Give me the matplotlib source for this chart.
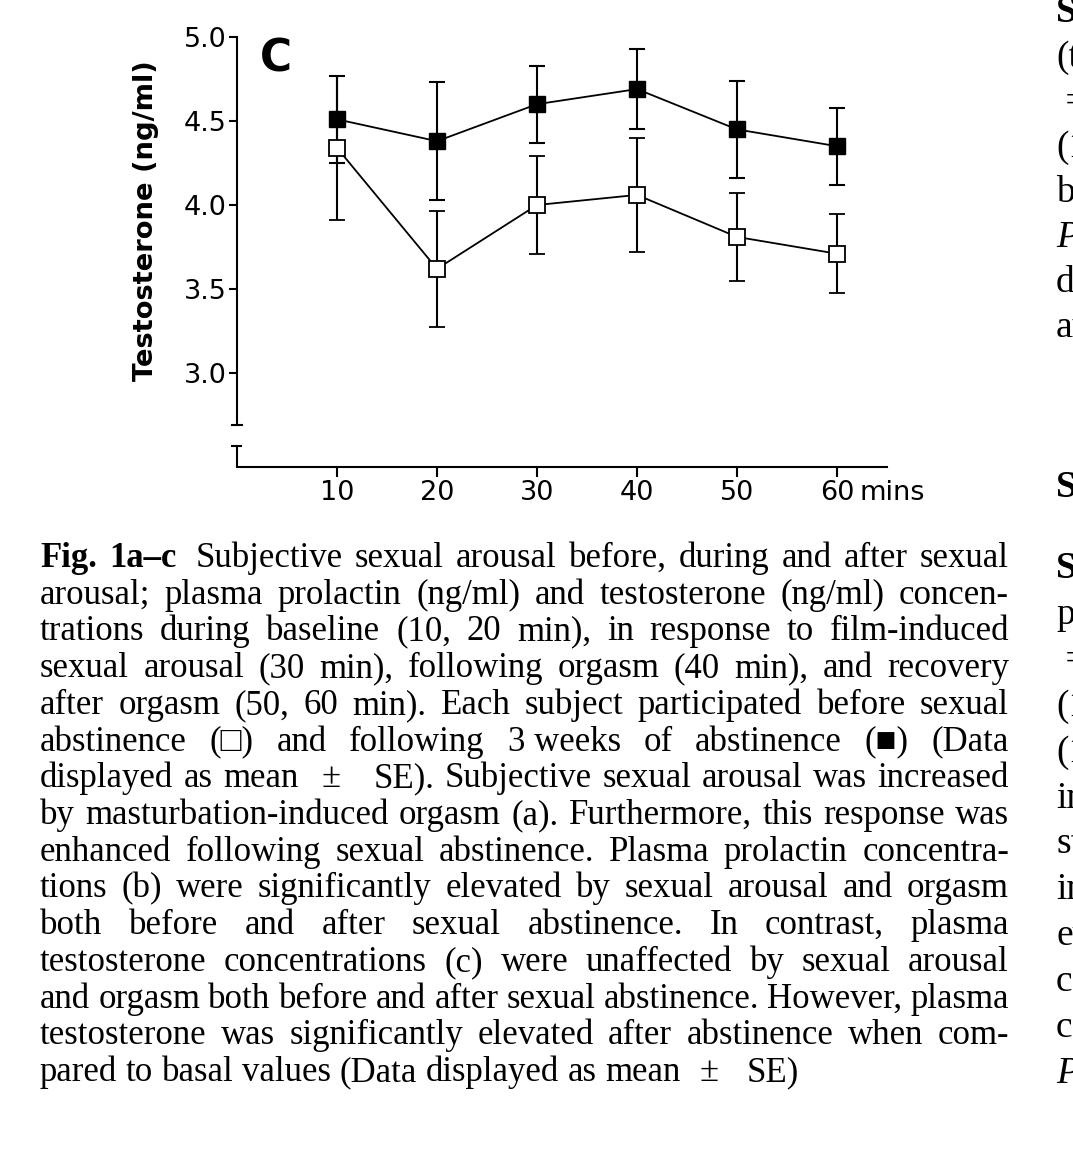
import matplotlib
matplotlib.use('Agg')
import matplotlib.pyplot as plt

W, H = 1073, 1173

# ---------------- data ----------------
times = [10, 20, 30, 40, 50, 60]
xtick_labels = ['10', '20', '30', '40', '50', '60']
after_mean = [4.51, 4.38, 4.60, 4.69, 4.45, 4.35]     # filled squares (after abstinence)
after_se = [0.26, 0.35, 0.23, 0.24, 0.29, 0.23]
before_mean = [4.34, 3.62, 4.00, 4.06, 3.81, 3.71]    # open squares (before abstinence)
before_se = [0.43, 0.345, 0.29, 0.34, 0.26, 0.235]
yticks = [3.0, 3.5, 4.0, 4.5, 5.0]
ytick_labels = ['3.0', '3.5', '4.0', '4.5', '5.0']
ylabel = 'Testosterone (ng/ml)'
panel_label = 'C'
x_unit = 'mins'

caption_lines = [
    "Fig. 1a–c Subjective sexual arousal before, during and after sexual",
    "arousal; plasma prolactin (ng/ml) and testosterone (ng/ml) concen-",
    "trations during baseline (10, 20 min), in response to film-induced",
    "sexual arousal (30 min), following orgasm (40 min), and recovery",
    "after orgasm (50, 60 min). Each subject participated before sexual",
    "abstinence (□) and following 3\u00a0weeks of abstinence (■) (Data",
    "displayed as mean ± SE). Subjective sexual arousal was increased",
    "by masturbation-induced orgasm (a). Furthermore, this response was",
    "enhanced following sexual abstinence. Plasma prolactin concentra-",
    "tions (b) were significantly elevated by sexual arousal and orgasm",
    "both before and after sexual abstinence. In contrast, plasma",
    "testosterone concentrations (c) were unaffected by sexual arousal",
    "and orgasm both before and after sexual abstinence. However, plasma",
    "testosterone was significantly elevated after abstinence when com-",
    "pared to basal values (Data displayed as mean ± SE)",
]
bold_words_line0 = 2

right_top = [("Se", 'bold', 'normal'), ("(t", 'normal', 'normal'), (" =", 'normal', 'normal'),
             ("(1", 'normal', 'normal'), ("be", 'normal', 'normal'), ("P", 'normal', 'italic'),
             ("du", 'normal', 'normal'), ("an", 'normal', 'normal')]
right_head = ("Se", 'bold', 'normal')
right_bottom = [("Se", 'bold', 'normal'), ("pr", 'normal', 'normal'), (" =", 'normal', 'normal'),
                ("(1", 'normal', 'normal'), ("(1", 'normal', 'normal'), ("in", 'normal', 'normal'),
                ("st", 'normal', 'normal'), ("in", 'normal', 'normal'), ("ev", 'normal', 'normal'),
                ("co", 'normal', 'normal'), ("co", 'normal', 'normal'), ("P", 'normal', 'italic')]

# ---------------- figure ----------------
fig = plt.figure(figsize=(W / 100, H / 100), dpi=100)
fig.patch.set_facecolor('white')


def fx(px):
    return px / W


def fy(py):
    return 1 - py / H


sans = 'DejaVu Sans'
tick_fs = 19.5
ax = fig.add_axes([fx(237), fy(467), (887 - 237) / W, (467 - 37) / H])
ax.set_facecolor('none')
ax.set_xlim(0, 65)
ax.set_ylim(2.4405, 5.0)
for s in ['top', 'right']:
    ax.spines[s].set_visible(False)
spw = 1.5
ax.spines['left'].set_linewidth(spw)
ax.spines['bottom'].set_linewidth(spw)
ax.spines['left'].set_bounds(2.69, 5.0)

# axis break on the y axis
ax.plot([0, 0], [2.4405, 2.565], color='k', lw=spw, clip_on=False, solid_capstyle='butt')
ax.plot([-0.5, 0.5], [2.69, 2.69], color='k', lw=spw, clip_on=False)
ax.plot([-0.5, 0.4], [2.565, 2.565], color='k', lw=spw, clip_on=False)

ax.errorbar(times, after_mean, yerr=after_se, fmt='-s', color='k', mfc='k', mec='k',
            ms=11.5, lw=1.3, elinewidth=1.5, capsize=6, capthick=1.5, zorder=3,
            clip_on=False)
ax.errorbar(times, before_mean, yerr=before_se, fmt='-s', color='k', mfc='white', mec='k',
            mew=1.3, ms=11.5, lw=1.3, elinewidth=1.5, capsize=6, capthick=1.5, zorder=4,
            clip_on=False)

ax.set_xticks(times)
ax.set_xticklabels(xtick_labels, fontfamily=sans, fontsize=tick_fs)
ax.set_yticks(yticks)
ax.set_yticklabels(ytick_labels, fontfamily=sans, fontsize=tick_fs)
ax.tick_params(axis='y', direction='out', length=5.8, width=1.5, pad=1.5)
ax.tick_params(axis='x', direction='out', length=7.2, width=1.5, pad=2.0)

ax.annotate(x_unit, xy=(60, 0), xycoords=('data', 'axes fraction'),
            xytext=(16.5, -(7.2 + 2.0)), textcoords='offset points',
            ha='left', va='top', fontfamily=sans, fontsize=tick_fs)

ax.text(2.3, 4.792, panel_label, fontsize=31.6, fontweight='bold', fontfamily=sans,
        ha='left', va='baseline')

fig.text(fx(146), fy(221), ylabel, rotation=90, ha='center', va='center',
         fontsize=19.7, fontweight='bold', fontfamily=sans)

# ---------------- caption (justified) ----------------
serif = ['Liberation Serif', 'DejaVu Serif']
cap_size = 25
renderer = fig.canvas.get_renderer()
left_px, right_px = 40, 1009
base0, step = 567, 36.72


def word_width(txt, weight):
    t = fig.text(0, 0, txt, fontsize=cap_size, fontfamily=serif, fontweight=weight)
    w = t.get_window_extent(renderer).width
    t.remove()
    return w


space_w = cap_size * 100 / 72 * 0.25
for i, line in enumerate(caption_lines):
    words = line.split(' ')
    weights = ['bold' if (i == 0 and k < bold_words_line0) else 'normal' for k in range(len(words))]
    widths = [word_width(w, wt) for w, wt in zip(words, weights)]
    gap_weights = []
    for k in range(len(words) - 1):
        gw = 1.0
        if words[k + 1] == '±':
            gw = 2.2
        if words[k] == '±':
            gw = 3.2
        if i == 0 and k == bold_words_line0 - 1:
            gw = 1.6
        gap_weights.append(gw)
    if i < len(caption_lines) - 1:
        unit = (right_px - left_px - sum(widths)) / sum(gap_weights)
    else:
        unit = space_w
    x = left_px
    yb = base0 + i * step
    for k, (w, wt) in enumerate(zip(words, weights)):
        fig.text(fx(x), fy(yb), w, fontsize=cap_size, fontfamily=serif, fontweight=wt,
                 ha='left', va='baseline')
        x += widths[k]
        if k < len(gap_weights):
            x += unit * gap_weights[k]

# ---------------- clipped neighbouring column ----------------
rc_size = 27
rx = 1056
for j, (t, wt, st) in enumerate(right_top):
    fig.text(fx(rx), fy(22 + j * 45), t, fontsize=rc_size, fontfamily=serif,
             fontweight=wt, fontstyle=st, ha='left', va='baseline')
fig.text(fx(rx), fy(497), right_head[0], fontsize=rc_size, fontfamily=serif,
         fontweight=right_head[1], fontstyle=right_head[2], ha='left', va='baseline')
for j, (t, wt, st) in enumerate(right_bottom):
    fig.text(fx(rx), fy(578 + j * 45.9), t, fontsize=rc_size, fontfamily=serif,
             fontweight=wt, fontstyle=st, ha='left', va='baseline')

fig.savefig('out.png', dpi=100, facecolor='white')
